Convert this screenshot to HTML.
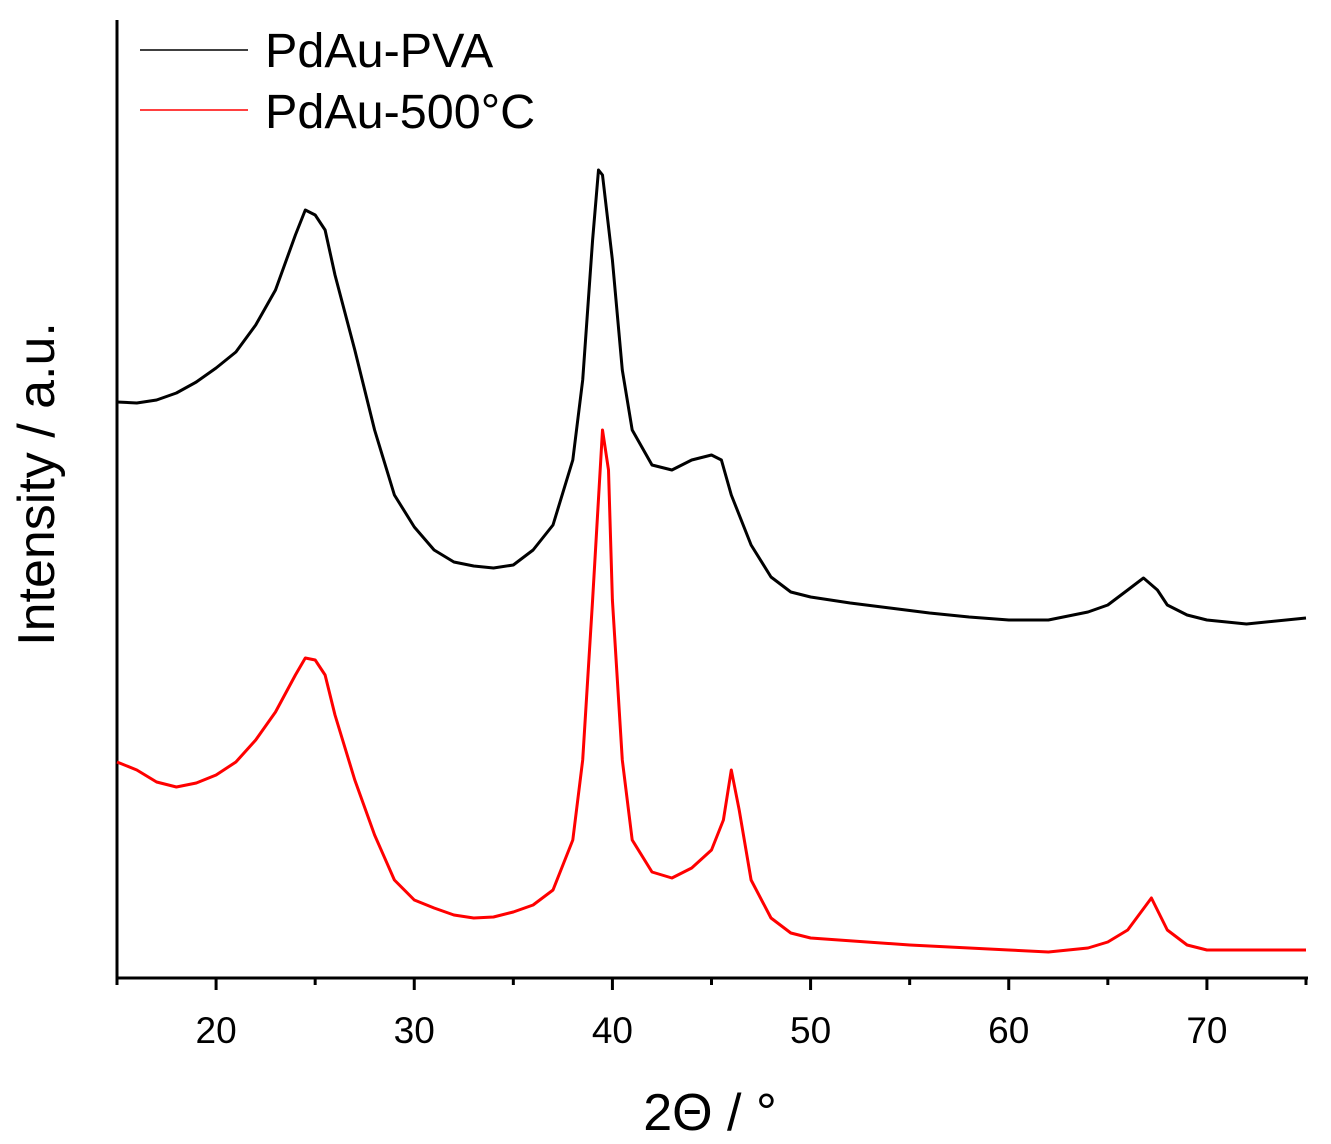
<!DOCTYPE html>
<html><head><meta charset="utf-8"><style>
body{margin:0;background:#fff;}
svg{display:block;font-family:"Liberation Sans",sans-serif;}
</style></head><body>
<svg id="chart" width="1331" height="1144">
<g id="axes"></g>
<g id="series"></g>
<g>
<line x1="140" y1="50" x2="248" y2="50" stroke="#000" stroke-width="1.5"/>
<text x="265" y="67" font-size="48.5">PdAu-PVA</text>
<line x1="140" y1="110" x2="248" y2="110" stroke="#f00" stroke-width="1.5"/>
<text x="265" y="128" font-size="48.5">PdAu-500°C</text>
</g>
<text transform="translate(54,484) rotate(-90)" text-anchor="middle" font-size="52">Intensity / a.u.</text>
<text x="710" y="1130" text-anchor="middle" font-size="52">2Θ / °</text>
</svg>
<script>
const xTicks=[20,30,40,50,60,70];
const xMinor=[15,25,35,45,55,65,75];
const pvaX=[15,16,17,18,19,20,21,22,23,24,24.5,25,25.5,26,27,28,29,30,31,32,33,34,35,36,37,38,38.5,39,39.3,39.5,40,40.5,41,42,43,44,45,45.5,46,47,48,49,50,52,54,56,58,60,62,64,65,66,66.8,67.5,68,69,70,72,75];
const pvaY=[576,575,578,585,596,610,626,653,688,743,768,763,748,703,628,548,483,451,428,416,412,410,413,428,453,518,598,738,808,803,718,608,548,513,508,518,523,518,483,433,401,386,381,375,370,365,361,358,358,366,373,388,400,388,373,363,358,354,360];
const hotX=[15,16,17,18,19,20,21,22,23,24,24.5,25,25.5,26,27,28,29,30,31,32,33,34,35,36,37,38,38.5,39,39.5,39.8,40,40.5,41,42,43,44,45,45.6,46,46.4,47,48,49,50,55,60,62,64,65,66,67.2,68,69,70,75];
const hotY=[216,208,196,191,195,203,216,238,266,303,320,318,303,263,198,143,98,78,70,63,60,61,66,73,88,138,218,378,548,508,378,218,138,106,100,110,128,158,208,168,98,60,45,40,33,28,26,30,36,48,80,48,33,28,28];
const NS='http://www.w3.org/2000/svg';
const X0=117,X1=1306,Y0=978;
function sx(v){return X0+(v-15)*(X1-X0)/60;}
function sy(v){return Y0-v;}
const axes=document.getElementById('axes');
function mk(tag,attrs,parent){const e=document.createElementNS(NS,tag);for(const k in attrs)e.setAttribute(k,attrs[k]);parent.appendChild(e);return e;}
const ya=mk('line',{x1:X0,y1:20,x2:X0,y2:Y0,stroke:'#000','stroke-width':3},axes);


const xa=mk('line',{x1:X0-1.5,y1:Y0,x2:1308,y2:Y0,stroke:'#000','stroke-width':3},axes);


xTicks.forEach(t=>{
 const l=mk('line',{x1:sx(t),y1:Y0,x2:sx(t),y2:Y0+12,stroke:'#000','stroke-width':3},axes);
 
 
 const tx=mk('text',{x:sx(t),y:1043,'text-anchor':'middle','font-size':37},axes);
 tx.textContent=t;
 
 
});
xMinor.forEach(t=>{
 const l=mk('line',{x1:sx(t),y1:Y0,x2:sx(t),y2:Y0+7,stroke:'#000','stroke-width':3},axes);
 
 
});
const sg=document.getElementById('series');
function draw(xs,ys,color,name){
 const d=xs.map((x,i)=>(i?'L':'M')+sx(x).toFixed(1)+','+sy(ys[i]).toFixed(1)).join('');
 const p=mk('path',{d:d,fill:'none',stroke:color,'stroke-width':3,'stroke-linejoin':'round'},sg);
 
 
}
draw(pvaX,pvaY,'#000','series-pdau-pva');
draw(hotX,hotY,'#f00','series-pdau-500c');
</script>
</body></html>
